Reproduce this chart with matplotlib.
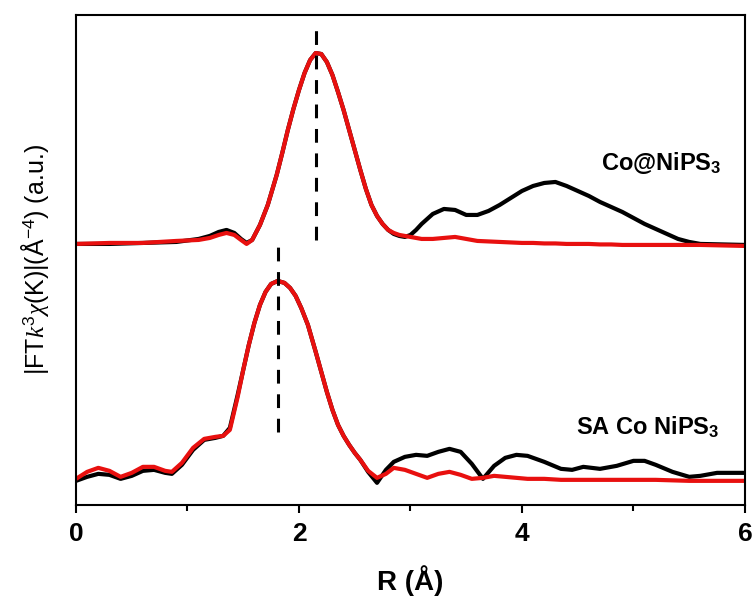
import matplotlib.pyplot as plt
import numpy as np
from matplotlib.ticker import MultipleLocator

# Co@NiPS3 (upper pair), intensities above its own baseline
r_co = [0.0, 0.3, 0.6, 0.9, 1.1, 1.2, 1.28, 1.35, 1.42, 1.48, 1.53, 1.58, 1.65,
        1.72, 1.8, 1.85, 1.9, 1.95, 2.0, 2.05, 2.1, 2.15, 2.2, 2.25, 2.3, 2.35,
        2.4, 2.45, 2.5, 2.55, 2.6, 2.65, 2.7, 2.75, 2.8, 2.85, 2.9, 2.95, 3.0,
        3.05, 3.1, 3.2, 3.3, 3.4, 3.5, 3.6, 3.7, 3.8, 3.9, 4.0, 4.1, 4.2, 4.3,
        4.4, 4.5, 4.6, 4.7, 4.8, 4.9, 5.0, 5.1, 5.2, 5.3, 5.4, 5.5, 5.6, 6.0]
co_exp = [0.01, 0.01, 0.02, 0.03, 0.06, 0.09, 0.13, 0.15, 0.12, 0.06, 0.02, 0.05,
          0.20, 0.40, 0.70, 0.92, 1.15, 1.36, 1.55, 1.72, 1.85, 1.92, 1.91, 1.83,
          1.70, 1.53, 1.35, 1.15, 0.95, 0.75, 0.56, 0.40, 0.29, 0.21, 0.15, 0.11,
          0.09, 0.08, 0.10, 0.15, 0.21, 0.31, 0.36, 0.35, 0.30, 0.30, 0.34, 0.40,
          0.47, 0.54, 0.59, 0.62, 0.63, 0.59, 0.54, 0.49, 0.43, 0.38, 0.33, 0.27,
          0.21, 0.16, 0.11, 0.06, 0.03, 0.01, 0.00]
co_fit = [0.01, 0.02, 0.02, 0.04, 0.05, 0.07, 0.10, 0.12, 0.10, 0.05, 0.01, 0.05,
          0.20, 0.40, 0.70, 0.92, 1.15, 1.36, 1.55, 1.72, 1.85, 1.92, 1.91, 1.83,
          1.70, 1.53, 1.35, 1.15, 0.95, 0.75, 0.56, 0.40, 0.29, 0.21, 0.15, 0.12,
          0.10, 0.09, 0.08, 0.07, 0.06, 0.06, 0.07, 0.08, 0.06, 0.04, 0.035, 0.03,
          0.025, 0.02, 0.02, 0.015, 0.015, 0.01, 0.01, 0.01, 0.005, 0.005, 0.0,
          0.0, 0.0, 0.0, 0.0, 0.0, 0.0, 0.0, -0.01]

# SA Co NiPS3 (lower pair)
r_sa = [0.0, 0.1, 0.2, 0.3, 0.4, 0.5, 0.6, 0.7, 0.8, 0.86, 0.95, 1.05, 1.15, 1.25,
        1.32, 1.38, 1.45, 1.5, 1.55, 1.6, 1.65, 1.7, 1.75, 1.81, 1.87, 1.92,
        1.97, 2.02, 2.08, 2.15, 2.2, 2.25, 2.3, 2.35, 2.4, 2.45, 2.5, 2.55, 2.62,
        2.7, 2.78, 2.85, 2.95, 3.05, 3.15, 3.25, 3.35, 3.45, 3.55, 3.65, 3.75,
        3.85, 3.95, 4.05, 4.2, 4.35, 4.45, 4.55, 4.7, 4.85, 5.0, 5.1, 5.2, 5.35,
        5.5, 5.6, 5.75, 6.0]
sa_exp = [-0.01, 0.03, 0.06, 0.05, 0.01, 0.04, 0.09, 0.10, 0.07, 0.06, 0.15, 0.30,
          0.40, 0.42, 0.44, 0.52, 0.85, 1.10, 1.35, 1.57, 1.75, 1.88, 1.96, 1.99,
          1.97, 1.92, 1.84, 1.72, 1.55, 1.28, 1.08, 0.88, 0.70, 0.55, 0.44, 0.35,
          0.27, 0.20, 0.08, -0.03, 0.10, 0.18, 0.23, 0.25, 0.24, 0.28, 0.31, 0.28,
          0.16, 0.01, 0.14, 0.22, 0.25, 0.24, 0.18, 0.11, 0.10, 0.13, 0.11, 0.14,
          0.19, 0.19, 0.15, 0.08, 0.03, 0.04, 0.07, 0.07]
sa_fit = [0.01, 0.08, 0.12, 0.09, 0.03, 0.07, 0.13, 0.13, 0.09, 0.08, 0.17, 0.32,
          0.41, 0.43, 0.44, 0.50, 0.83, 1.10, 1.35, 1.57, 1.75, 1.88, 1.96, 1.99,
          1.97, 1.92, 1.84, 1.72, 1.55, 1.28, 1.08, 0.88, 0.70, 0.55, 0.44, 0.35,
          0.27, 0.20, 0.09, 0.02, 0.06, 0.12, 0.10, 0.06, 0.02, 0.06, 0.08, 0.05,
          0.01, 0.02, 0.04, 0.03, 0.02, 0.01, 0.01, 0.0, 0.0, 0.0, 0.0, 0.0, 0.0,
          0.0, 0.0, -0.005, -0.01, -0.01, -0.01, -0.01]

co_offset = 2.60
sa_offset = 0.25
peak_co = 2.15
peak_sa = 1.81

plt.rcParams['font.family'] = ['Liberation Sans', 'DejaVu Sans']
plt.rcParams['mathtext.fontset'] = 'custom'
plt.rcParams['mathtext.rm'] = 'Liberation Sans'
plt.rcParams['mathtext.bf'] = 'Liberation Sans:bold'
plt.rcParams['mathtext.it'] = 'Liberation Serif:italic'

fig = plt.figure(figsize=(7.54, 6.01), dpi=100)
ax = fig.add_axes([0.1008, 0.16, 0.8872, 0.815])

lw = 3.0
style = dict(lw=lw, solid_joinstyle='round', solid_capstyle='round')
ax.plot(r_co, np.array(co_exp) + co_offset, color='black', **style)
ax.plot(r_co, np.array(co_fit) + co_offset, color='#e8100f', **style)
ax.plot(r_sa, np.array(sa_exp) + sa_offset, color='black', **style)
ax.plot(r_sa, np.array(sa_fit) + sa_offset, color='#e8100f', **style)

# peak position markers
ax.plot([peak_co, peak_co], [2.65, 4.78], color='black', lw=2.2,
        dashes=(4.5, 3.5))
ax.plot([peak_sa, peak_sa], [0.73, 2.64], color='black', lw=2.2,
        dashes=(4.5, 3.5))

ax.text(5.25, 3.42, r'Co@NiPS$_\mathbf{3}$', fontsize=17, fontweight='bold',
        ha='center', va='center')
ax.text(5.13, 0.78, r'SA Co NiPS$_\mathbf{3}$', fontsize=17, fontweight='bold',
        ha='center', va='center')

ax.set_xlim(0, 6)
ax.set_ylim(0, 4.9)
ax.xaxis.set_major_locator(MultipleLocator(2))
ax.xaxis.set_minor_locator(MultipleLocator(1))
ax.set_yticks([])
ax.tick_params(axis='x', which='major', direction='out', length=6, width=1.5,
               labelsize=19, pad=6)
ax.tick_params(axis='x', which='minor', direction='out', length=4, width=1.5)
for lab in ax.get_xticklabels():
    lab.set_fontweight('bold')
    lab.set_fontfamily(['Liberation Sans Narrow', 'Liberation Sans'])
for sp in ax.spines.values():
    sp.set_linewidth(1.5)

ax.set_xlabel('R (Å)', fontsize=20, fontweight='bold', labelpad=14,
              fontfamily=['Liberation Sans Narrow', 'Liberation Sans'])
ax.set_ylabel(r'|FT$k^3\chi$(K)|(Å$^{-4}$) (a.u.)', fontsize=18, labelpad=18)

fig.savefig('out.png', dpi=100)
